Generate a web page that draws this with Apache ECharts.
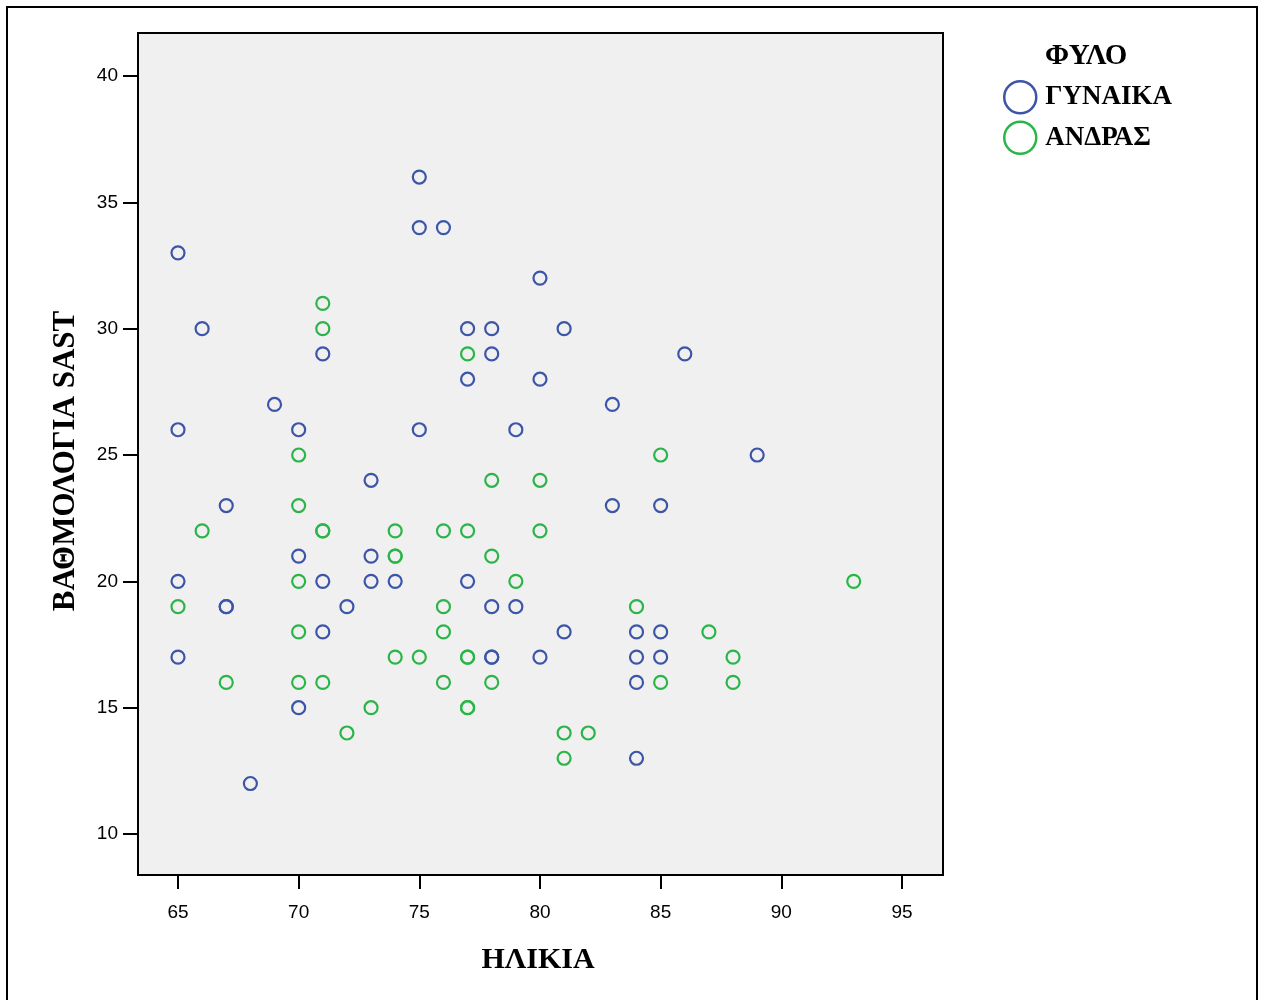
<!DOCTYPE html>
<html>
<head>
<meta charset="utf-8">
<script src="https://cdn.jsdelivr.net/npm/echarts@6/dist/echarts.min.js"></script>
<style>
html,body{margin:0;padding:0;background:#fff;}
#chart{width:1264px;height:1000px;}
</style>
</head>
<body>
<div id="chart"></div>
<script>
// Data: [age, SAST score]
const womenAge   = [65,66,65,69,70,71,67,70,65,67,67,71,71,72,73,73,73,74,65,70,68,75,75,76,80,77,78,81,78,86,77,80,83,75,79,89,83,85,77,78,79,81,84,85,78,78,80,84,85,84,84];
const womenScore = [33,30,26,27,26,29,23,21,20,19,19,20,18,19,24,21,20,20,17,15,12,36,34,34,32,30,30,30,29,29,28,28,27,26,26,25,23,23,20,19,19,18,18,18,17,17,17,17,17,16,13];
const menAge     = [71,71,77,70,85,78,80,70,66,71,71,74,76,77,80,74,74,78,70,79,93,65,76,84,70,76,87,74,75,77,77,88,67,70,71,76,78,85,88,73,77,77,72,81,82,81];
const menScore   = [31,30,29,25,25,24,24,23,22,22,22,22,22,22,22,21,21,21,20,20,20,19,19,19,18,18,18,17,17,17,17,17,16,16,16,16,16,16,16,15,15,15,14,14,14,13];
const xTicks = [65,70,75,80,85,90,95];
const yTicks = [10,15,20,25,30,35,40];
const seriesNames = ['ΓΥΝΑΙΚΑ','ΑΝΔΡΑΣ'];
const legendTitle = 'ΦΥΛΟ';
const xTitle = 'ΗΛΙΚΙΑ';
const yTitle = 'ΒΑΘΜΟΛΟΓΙΑ SAST';

const BLUE = '#3d55a8';
const GREEN = '#2bb548';
const pair = (a, b) => a.map((v, i) => [v, b[i]]);

const chart = echarts.init(document.getElementById('chart'), null, {renderer: 'canvas'});
const serif = '"Liberation Serif", "Times New Roman", serif';
const sans = '"Liberation Sans", Arial, sans-serif';

chart.setOption({
  animation: false,
  backgroundColor: '#ffffff',
  title: {
    text: legendTitle,
    left: 1040, top: 37,
    textStyle: {fontFamily: serif, fontWeight: 'bold', fontSize: 29, color: '#000'}
  },
  legend: {
    orient: 'vertical',
    left: 998, top: 75,
    itemWidth: 32, itemHeight: 32, itemGap: 6,
    icon: 'circle',
    data: seriesNames,
    itemStyle: {borderWidth: 2.5},
    textStyle: {fontFamily: serif, fontWeight: 'bold', fontSize: 27, color: '#000', padding: [0,0,0,4]}
  },
  graphic: [{
    type: 'rect', silent: true, z: 100,
    shape: {x: 7, y: 7, width: 1250, height: 1010},
    style: {fill: 'none', stroke: '#000', lineWidth: 2}
  }],
  grid: {
    left: 138, top: 33, right: 321, bottom: 125,
    show: true, backgroundColor: '#f0f0f0', borderColor: '#000', borderWidth: 2
  },
  xAxis: {
    type: 'value', min: 63.343, max: 96.70,
    name: xTitle, nameLocation: 'middle', nameGap: 70,
    nameTextStyle: {fontFamily: serif, fontWeight: 'bold', fontSize: 30, color: '#000', padding: [0,5,0,0]},
    axisLine: {show: true, lineStyle: {color: '#000', width: 2}},
    axisTick: {show: true, length: 14, lineStyle: {color: '#000', width: 2}, customValues: xTicks},
    axisLabel: {customValues: xTicks, margin: 28, fontFamily: sans, fontSize: 19, color: '#000'},
    splitLine: {show: false}
  },
  yAxis: {
    type: 'value', min: 8.38, max: 41.70,
    name: yTitle, nameLocation: 'middle', nameGap: 57,
    nameTextStyle: {fontFamily: serif, fontWeight: 'bold', fontSize: 31, color: '#000', padding: [0,14,0,0]},
    axisLine: {show: true, lineStyle: {color: '#000', width: 2}},
    axisTick: {show: true, length: 15, lineStyle: {color: '#000', width: 2}, customValues: yTicks},
    axisLabel: {customValues: yTicks, margin: 20, fontFamily: sans, fontSize: 19, color: '#000'},
    splitLine: {show: false}
  },
  series: [
    {
      name: seriesNames[0], type: 'scatter', symbol: 'circle', symbolSize: 13,
      itemStyle: {color: 'rgba(0,0,0,0)', borderColor: BLUE, borderWidth: 2.2, opacity: 1},
      data: pair(womenAge, womenScore)
    },
    {
      name: seriesNames[1], type: 'scatter', symbol: 'circle', symbolSize: 13,
      itemStyle: {color: 'rgba(0,0,0,0)', borderColor: GREEN, borderWidth: 2.2, opacity: 1},
      data: pair(menAge, menScore)
    }
  ]
});
</script>
</body>
</html>
